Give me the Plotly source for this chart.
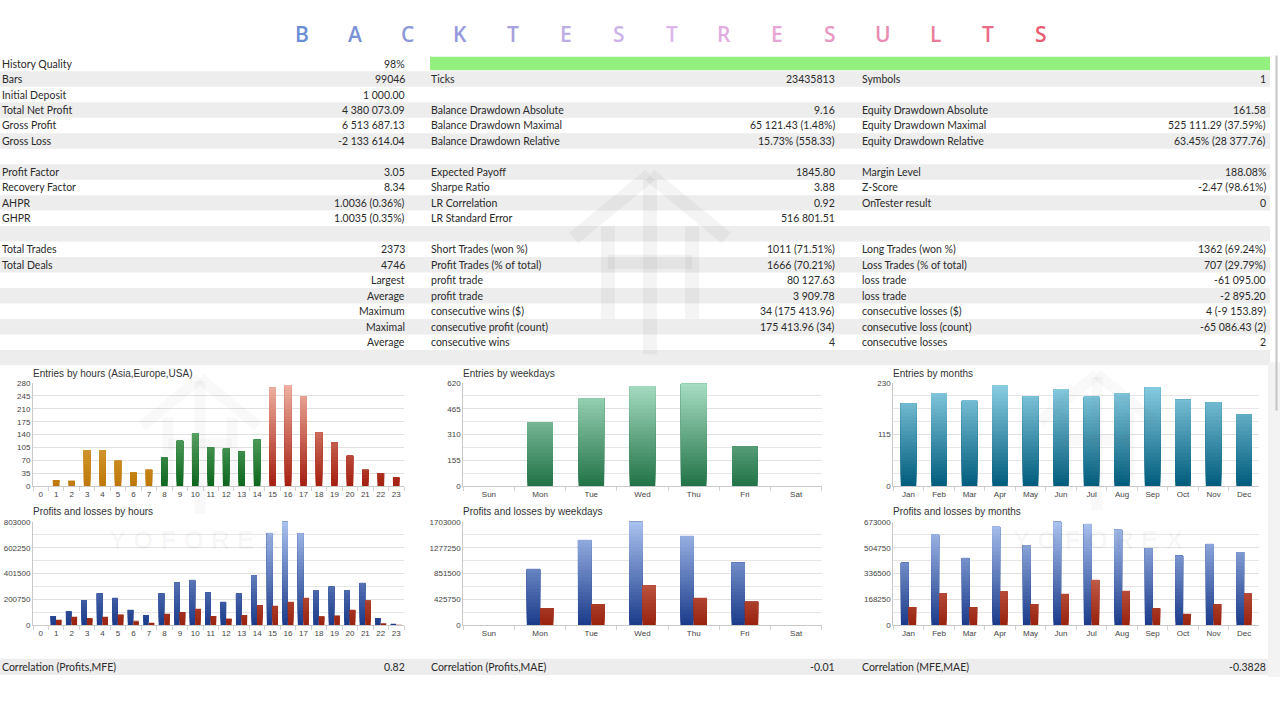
import numpy as np
import plotly.graph_objects as go

W, H = 1280, 720


def px(x):
    return x / W


def py(y):
    # small empirical correction for the renderer's vertical placement
    yy = (y - 1.75) / 0.9945
    return 1 - yy / H


# ---------------- DATA ----------------
title_text = "BACKTESTRESULTS"
title_colors = ["#6b8fd4", "#7b93d6", "#8a98da", "#9498dc", "#a6a0de", "#bcaee4", "#cdb4e8",
                "#dab6ea", "#e2ace0", "#e8a6d4", "#ea98c4", "#ea8cb2", "#ea7c9c", "#ea6c88", "#e95c72"]

col1_labels = ["History Quality", "Bars", "Initial Deposit", "Total Net Profit", "Gross Profit", "Gross Loss", "",
               "Profit Factor", "Recovery Factor", "AHPR", "GHPR", "", "Total Trades", "Total Deals",
               "", "", "", "", "", ""]
col1_values = ["98%", "99046", "1 000.00", "4 380 073.09", "6 513 687.13", "-2 133 614.04", "",
               "3.05", "8.34", "1.0036 (0.36%)", "1.0035 (0.35%)", "", "2373", "4746",
               "Largest", "Average", "Maximum", "Maximal", "Average", ""]
col2_labels = ["", "Ticks", "", "Balance Drawdown Absolute", "Balance Drawdown Maximal", "Balance Drawdown Relative", "",
               "Expected Payoff", "Sharpe Ratio", "LR Correlation", "LR Standard Error", "",
               "Short Trades (won %)", "Profit Trades (% of total)", "profit trade", "profit trade",
               "consecutive wins ($)", "consecutive profit (count)", "consecutive wins", ""]
col2_values = ["", "23435813", "", "9.16", "65 121.43 (1.48%)", "15.73% (558.33)", "",
               "1845.80", "3.88", "0.92", "516 801.51", "", "1011 (71.51%)", "1666 (70.21%)",
               "80 127.63", "3 909.78", "34 (175 413.96)", "175 413.96 (34)", "4", ""]
col3_labels = ["", "Symbols", "", "Equity Drawdown Absolute", "Equity Drawdown Maximal", "Equity Drawdown Relative", "",
               "Margin Level", "Z-Score", "OnTester result", "", "", "Long Trades (won %)", "Loss Trades (% of total)",
               "loss trade", "loss trade", "consecutive losses ($)", "consecutive loss (count)", "consecutive losses", ""]
col3_values = ["", "1", "", "161.58", "525 111.29 (37.59%)", "63.45% (28 377.76)", "",
               "188.08%", "-2.47 (98.61%)", "0", "", "", "1362 (69.24%)", "707 (29.79%)",
               "-61 095.00", "-2 895.20", "4 (-9 153.89)", "-65 086.43 (2)", "2", ""]

corr_labels = ["Correlation (Profits,MFE)", "Correlation (Profits,MAE)", "Correlation (MFE,MAE)"]
corr_values = ["0.82", "-0.01", "-0.3828"]

hours = [str(h) for h in range(24)]
hour_sessions = ["Asia"] * 8 + ["Europe"] * 7 + ["USA"] * 9
entries_by_hour = [0, 17, 15, 98, 98, 69, 37, 45, 77, 123, 143, 105, 102, 94, 126,
                   269, 275, 243, 146, 118, 82, 45, 35, 23]
profit_by_hour = [0, 73000, 107000, 197000, 247000, 210000, 120000, 78000, 247000, 333000, 348000, 255000,
                  179000, 247000, 387000, 717000, 803000, 712000, 275000, 299000, 268000, 327000, 57000, 8000]
loss_by_hour = [0, 36000, 62000, 55000, 62000, 83000, 29000, 21000, 88000, 101000, 127000, 73000,
                52000, 78000, 156000, 148000, 182000, 210000, 68000, 75000, 117000, 192000, 16000, 3000]

weekdays = ["Sun", "Mon", "Tue", "Wed", "Thu", "Fri", "Sat"]
entries_by_weekday = [0, 385, 530, 602, 616, 240, 0]
profit_by_weekday = [0, 920000, 1405000, 1703000, 1460000, 1031000, 0]
loss_by_weekday = [0, 285000, 350000, 650000, 445000, 390000, 0]

months = ["Jan", "Feb", "Mar", "Apr", "May", "Jun", "Jul", "Aug", "Sep", "Oct", "Nov", "Dec"]
entries_by_month = [185, 208, 190, 224, 201, 215, 199, 207, 221, 193, 187, 161]
profit_by_month = [407000, 590000, 438000, 642000, 521000, 673000, 658000, 621000, 503000, 453000, 529000, 477000]
loss_by_month = [120000, 211000, 120000, 218000, 139000, 203000, 294000, 222000, 109000, 74000, 137000, 205000]

chart_titles = ["Entries by hours (Asia,Europe,USA)", "Profits and losses by hours",
                "Entries by weekdays", "Profits and losses by weekdays",
                "Entries by months", "Profits and losses by months"]

# ---------------- STYLE ----------------
TABLE_FONT = "Lato, 'Noto Sans', sans-serif"
CHART_FONT = "'Liberation Sans', Arial, sans-serif"
session_grad = {"Asia": ("#bd7806", "#f4c878"),
                "Europe": ("#0c661c", "#98d8a0"),
                "USA": ("#a41e0e", "#f0b4a4")}
weekday_grad = ("#217246", "#a8dec4")
month_grad = ("#005c7c", "#8ccfe4")
profit_grad = ("#1a3a8a", "#aac2ef")
loss_grad = ("#98220e", "#f0a28e")


def hex2rgb(h):
    h = h.lstrip("#")
    return np.array([int(h[i:i + 2], 16) for i in (0, 2, 4)], float)


def mix(a, b, t):
    c = hex2rgb(a) * (1 - t) + hex2rgb(b) * t
    return "rgb(%d,%d,%d)" % tuple(np.round(c))


fig = go.Figure()


def gradient_bars(x, values, grads, ymax, xa, ya, width, offset, nb=28):
    vals = np.asarray(values, float)
    h = ymax / nb
    for k in range(nb):
        b = k * h
        seg = np.where(vals > b, vals - b, 0.0)
        t = (k + 0.5) / nb
        cols = [mix(lo, hi, t) for lo, hi in grads]
        fig.add_trace(go.Bar(x=x, y=seg, base=[b] * len(x), width=width, offset=offset,
                             marker=dict(color=cols, line=dict(width=0)),
                             xaxis=xa, yaxis=ya, showlegend=False, hoverinfo="skip"))


# chart frames in pixels: (x0, x1, ytop, ybottom)
frames = [(33, 404, 382.7, 485.3), (33, 404, 520.7, 623.7),
          (463.3, 821.7, 382.7, 485.3), (463.3, 821.7, 520.7, 623.7),
          (893.3, 1259.3, 382.7, 485.3), (893.3, 1259.3, 520.7, 623.7)]
ymaxes = [280, 803000, 620, 1703000, 230, 673000]
dticks = [35, 200750, 155, 425750, 115, 168250]
minors = [None, 100375, 77.5, 212875, 28.75, 84125]
cats = [hours, hours, weekdays, weekdays, months, months]

# bars
gradient_bars(hours, entries_by_hour, [session_grad[s] for s in hour_sessions], 280, "x", "y", 0.43, -0.215)
gradient_bars(hours, profit_by_hour, [profit_grad] * 24, 803000, "x2", "y2", 0.36, -0.37)
gradient_bars(hours, loss_by_hour, [loss_grad] * 24, 803000, "x2", "y2", 0.36, -0.01)
gradient_bars(weekdays, entries_by_weekday, [weekday_grad] * 7, 620, "x3", "y3", 0.5, -0.25)
gradient_bars(weekdays, profit_by_weekday, [profit_grad] * 7, 1703000, "x4", "y4", 0.26, -0.26)
gradient_bars(weekdays, loss_by_weekday, [loss_grad] * 7, 1703000, "x4", "y4", 0.26, 0.0)
gradient_bars(months, entries_by_month, [month_grad] * 12, 230, "x5", "y5", 0.51, -0.255)
gradient_bars(months, profit_by_month, [profit_grad] * 12, 673000, "x6", "y6", 0.25, -0.25)
gradient_bars(months, loss_by_month, [loss_grad] * 12, 673000, "x6", "y6", 0.25, 0.0)

layout_axes = {}
for i, ((x0, x1, yt, yb), ym, dt, mn, cat) in enumerate(zip(frames, ymaxes, dticks, minors, cats)):
    n = "" if i == 0 else str(i + 1)
    layout_axes["xaxis" + n] = dict(domain=[px(x0), px(x1)], anchor="y" + n, type="category",
                                    categoryorder="array", categoryarray=cat, tickangle=0,
                                    range=[-0.5, len(cat) - 0.5], showgrid=False, showline=True,
                                    linecolor="#c9c9c9", linewidth=1, ticks="outside", tickson="boundaries",
                                    ticklen=4, tickcolor="#d2d2d2",
                                    tickfont=dict(size=8, color="#444", family=CHART_FONT),
                                    fixedrange=True, zeroline=False, automargin=False)
    ya = dict(domain=[py(yb), py(yt)], anchor="x" + n, range=[0, ym], dtick=dt, tick0=0,
              tickformat="d", showgrid=True, gridcolor="#e0e0e0", gridwidth=1, showline=True,
              linecolor="#c9c9c9", ticks="", tickfont=dict(size=8, color="#444", family=CHART_FONT),
              zeroline=False, fixedrange=True, automargin=False)
    if mn:
        ya["minor"] = dict(dtick=mn, tick0=0, showgrid=True, gridcolor="#e6e6e6", ticks="")
    layout_axes["yaxis" + n] = ya

shapes = []
annotations = []

# table stripes
row_h = 15.39
row_top0 = 57.3
for i in range(20):
    if i % 2 == 1:
        shapes.append(dict(type="rect", xref="paper", yref="paper", x0=px(0), x1=px(1270),
                           y0=py(row_top0 + (i + 1) * row_h), y1=py(row_top0 + i * row_h),
                           fillcolor="#ededed", line=dict(width=0), layer="below"))
# history quality bar
shapes.append(dict(type="rect", xref="paper", yref="paper", x0=px(430), x1=px(1270),
                   y0=py(71.5), y1=py(58.3), fillcolor="#93f07f", line=dict(width=0), layer="below"))
# correlation row stripe
shapes.append(dict(type="rect", xref="paper", yref="paper", x0=px(0), x1=px(1268),
                   y0=py(673), y1=py(657), fillcolor="#ededed", line=dict(width=0), layer="below"))
# right side strip & scrollbar
shapes.append(dict(type="rect", xref="paper", yref="paper", x0=px(1268), x1=px(1280),
                   y0=py(675), y1=py(362), fillcolor="#f3f3f3", line=dict(width=0), layer="below"))
shapes.append(dict(type="line", xref="paper", yref="paper", x0=px(1276.5), x1=px(1276.5),
                   y0=py(410), y1=py(57), line=dict(color="#c4c4c4", width=2)))


# faint logo watermarks
def logo(cx, top, Hh, alpha, lw):
    s = Hh / 182.0
    col = "rgba(110,110,110,%.3f)" % alpha
    segs = [((-78, 64), (0, 0)), ((0, 0), (78, 64)), ((0, 4), (0, 182)),
            ((-43, 52), (-43, 146)), ((43, 52), (43, 146)), ((-43, 88), (43, 88))]
    for (ax, ay), (bx, by) in segs:
        shapes.append(dict(type="line", xref="paper", yref="paper",
                           x0=px(cx + ax * s), y0=py(top + ay * s), x1=px(cx + bx * s), y1=py(top + by * s),
                           line=dict(color=col, width=lw), layer="above"))


logo(650, 176, 178, 0.08, 14)
logo(200, 378, 135, 0.045, 11)
logo(1097, 374, 135, 0.045, 11)

for xx in (194, 1098):
    annotations.append(dict(text="Y O F O R E X", x=px(xx), y=py(539), xref="paper", yref="paper",
                            showarrow=False, xanchor="center", yanchor="middle",
                            font=dict(size=26, color="rgba(0,0,0,0.03)", family=CHART_FONT, weight=700)))

# title letters
for i, (ch, c) in enumerate(zip(title_text, title_colors)):
    annotations.append(dict(text=ch, x=px(302 + i * 52.8), y=py(36), xref="paper", yref="paper",
                            showarrow=False, xanchor="center", yanchor="middle",
                            font=dict(size=21, color=c, family="'Open Sans', sans-serif", weight=600)))


def txt(s, x, y, anchor, size=10.5, color="#2a2a2a", fam=TABLE_FONT):
    if s:
        shift = -2 if anchor == "left" else 2
        annotations.append(dict(text=s, x=px(x + shift), y=py(y), xref="paper", yref="paper", showarrow=False,
                                xanchor=anchor, yanchor="middle", font=dict(size=size, color=color, family=fam)))


for i in range(20):
    yc = row_top0 + (i + 0.5) * row_h
    txt(col1_labels[i], 2, yc, "left")
    txt(col1_values[i], 405, yc, "right")
    txt(col2_labels[i], 431, yc, "left")
    txt(col2_values[i], 835, yc, "right")
    txt(col3_labels[i], 862, yc, "left")
    txt(col3_values[i], 1266, yc, "right")

for lab, val, xl, xr in zip(corr_labels, corr_values, (2, 431, 862), (405, 835, 1266)):
    txt(lab, xl, 665, "left")
    txt(val, xr, 665, "right")

for t, (x0, x1, yt, yb) in zip(chart_titles, frames):
    txt(t, x0, yt - 10, "left", size=10, color="#333", fam=CHART_FONT)

fig.update_layout(width=W, height=H, autosize=False, margin=dict(l=0, r=0, t=0, b=0, pad=0),
                  paper_bgcolor="white", plot_bgcolor="rgba(0,0,0,0)", barmode="overlay",
                  showlegend=False, shapes=shapes, annotations=annotations,
                  font=dict(family=CHART_FONT), **layout_axes)

fig.write_html("out.html", config={"displayModeBar": False},
               post_script="document.body.style.margin='0';document.body.style.overflow='hidden';")
